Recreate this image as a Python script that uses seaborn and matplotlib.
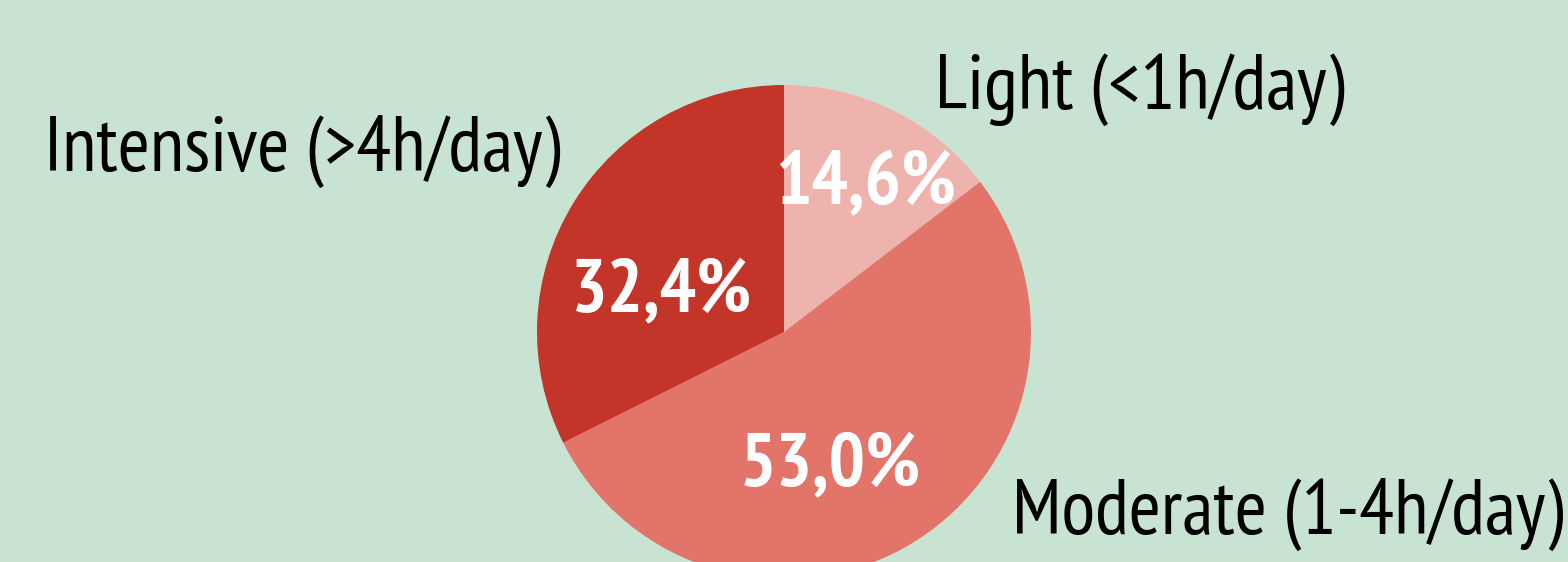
import numpy as np
import matplotlib
matplotlib.use("Agg")
import matplotlib.pyplot as plt
import seaborn as sns

# usage groups and their shares (%)
groups = ["Light (<1h/day)", "Moderate (1-4h/day)", "Intensive (>4h/day)"]
shares = [14.6, 53.0, 32.4]
pct_labels = ["14,6%", "53,0%", "32,4%"]
colors = ["#EFB3AD", "#E2746A", "#C33528"]
bg = "#C8E3D1"

sns.set_theme(style="white")
plt.rcParams["font.family"] = ["PT Sans Narrow", "Liberation Sans", "DejaVu Sans"]

fig = plt.figure(figsize=(15.68, 5.62), dpi=100)
fig.patch.set_facecolor(bg)
ax = fig.add_axes([0, 0, 1, 1])
ax.set_facecolor(bg)

wedges, _ = ax.pie(shares, colors=colors, startangle=90, counterclock=False,
                   radius=1, wedgeprops=dict(linewidth=0))

# pie centre sits at (784, 332) px, radius 247 px
r_px = 247
ax.set_xlim(-784 / r_px, (1568 - 784) / r_px)
ax.set_ylim(-(562 - 332) / r_px, 332 / r_px)
ax.set_aspect("auto")
ax.axis("off")

# percentage labels inside wedges
pct_pos = [(0.33, 0.595), (0.186, -0.546), (-0.494, 0.16)]
for (x, y), t in zip(pct_pos, pct_labels):
    ax.text(x, y, t, color="white", fontsize=55, fontweight="bold",
            ha="center", va="center")

# category labels outside
lab_pos = [(0.61, 0.98, "left"), (0.923, -0.74, "left"), (-0.907, 0.73, "right")]
for (x, y, ha), t in zip(lab_pos, groups):
    ax.text(x, y, t, color="black", fontsize=56, ha=ha, va="center")

fig.savefig("out.png", dpi=100, facecolor=bg)
